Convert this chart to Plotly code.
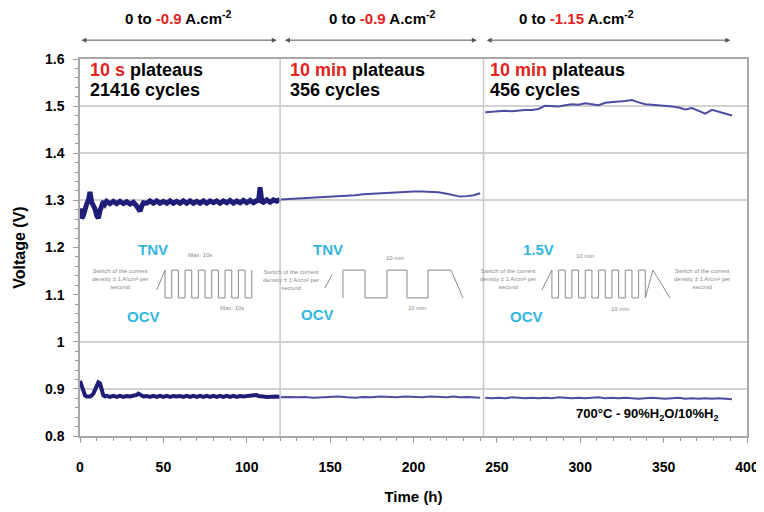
import plotly.graph_objects as go

# ---------------- data ----------------
t_s1 = [0,1,2,3,4,5,6,7,8,9,10,11,12,13,14,15,16,18,20,22,24,26,28,30,32,34,35,36,37,38,
        40,42,44,46,48,50,52,54,56,58,60,62,64,66,68,70,72,74,76,78,80,82,84,86,88,90,92,94,96,98,
        100,102,104,106,107,108,109,110,112,114,116,118,120]
v_up1 = [1.283,1.262,1.268,1.285,1.292,1.300,1.318,1.296,1.290,1.282,1.268,1.262,1.278,1.292,1.298,1.292,1.298,1.293,1.298,1.293,
         1.298,1.293,1.297,1.292,1.296,1.288,1.281,1.277,1.287,1.295,
         1.294,1.299,1.294,1.299,1.294,1.298,1.294,1.299,1.294,1.298,1.294,1.299,1.294,1.299,1.294,1.298,1.294,1.299,1.294,1.299,
         1.295,1.299,1.294,1.299,1.295,1.300,1.294,1.299,1.295,1.300,
         1.295,1.300,1.295,1.300,1.297,1.328,1.298,1.296,1.301,1.296,1.301,1.298,1.302]
v_lo1 = [0.917,0.905,0.893,0.886,0.884,0.883,0.884,0.886,0.890,0.898,0.907,0.914,0.912,0.896,0.886,0.884,0.885,0.883,0.885,0.883,
         0.885,0.883,0.885,0.884,0.885,0.887,0.890,0.889,0.886,0.884,
         0.885,0.883,0.885,0.883,0.885,0.883,0.885,0.883,0.885,0.884,0.885,0.883,0.885,0.883,0.885,0.883,0.885,0.883,0.885,0.883,
         0.885,0.883,0.885,0.883,0.885,0.883,0.885,0.883,0.885,0.884,
         0.885,0.886,0.888,0.887,0.885,0.884,0.883,0.884,0.883,0.884,0.883,0.884,0.883]

t_s2 = [120,125,130,135,140,145,150,155,160,165,170,175,180,185,190,195,200,205,210,215,220,224,228,232,236,240]
v_up2 = [1.302,1.303,1.304,1.304,1.305,1.306,1.307,1.308,1.310,1.311,1.313,1.314,1.316,1.317,1.318,1.319,1.319,1.319,1.318,1.317,
         1.314,1.311,1.308,1.309,1.311,1.315]
v_lo2 = [0.882,0.883,0.882,0.883,0.881,0.882,0.883,0.884,0.882,0.881,0.883,0.882,0.884,0.883,0.882,0.884,0.883,0.882,0.884,0.883,
         0.882,0.884,0.882,0.883,0.882,0.881]

t_s3 = [243,247,251,255,259,263,267,271,275,279,283,287,291,295,299,303,307,311,315,319,323,327,331,335,339,343,347,351,355,359,
        363,367,371,375,379,383,387,391]
v_up3 = [1.487,1.488,1.489,1.490,1.489,1.491,1.492,1.492,1.494,1.501,1.500,1.499,1.502,1.504,1.503,1.506,1.504,1.502,1.507,1.509,
         1.510,1.511,1.513,1.508,1.504,1.503,1.502,1.500,1.499,1.497,1.493,1.496,1.490,1.484,1.492,1.488,1.483,1.480]
v_lo3 = [0.881,0.880,0.881,0.880,0.882,0.881,0.880,0.881,0.880,0.881,0.880,0.882,0.881,0.880,0.881,0.880,0.881,0.882,0.880,0.881,
         0.880,0.881,0.880,0.879,0.880,0.881,0.880,0.879,0.880,0.881,0.879,0.880,0.879,0.880,0.879,0.880,0.879,0.878]

x_ticks = [0, 50, 100, 150, 200, 250, 300, 350, 400]
y_ticks = [0.8, 0.9, 1.0, 1.1, 1.2, 1.3, 1.4, 1.5, 1.6]
y_ticktext = ["0.8", "0.9", "1", "1.1", "1.2", "1.3", "1.4", "1.5", "1.6"]

phase_bounds = [120, 242]
phase_ranges = [(0, 118), (122, 238), (243, 390)]
phase_current = ["-0.9", "-0.9", "-1.15"]
phase_center = [59, 181, 298]
phase_plateau = ["10 s", "10 min", "10 min"]
phase_cycles = ["21416 cycles", "356 cycles", "456 cycles"]
phase_text_x = [4.5, 124.5, 244.5]

# schematic insets (time-like units in h, level in V on the main axes)
HI, LO = 1.152, 1.093
ins1_x = [46, 51, 51, 55, 55, 59, 59, 63, 63, 67, 67, 71, 71, 75, 75, 79, 79, 83, 83, 87, 87, 91, 91, 95, 95, 99, 99, 103, 103]
ins1_y = [1.110, HI, LO, LO, HI, HI, LO, LO, HI, HI, LO, LO, HI, HI, LO, LO, HI, HI, LO, LO, HI, HI, LO, LO, HI, HI, LO, LO, HI]
ins2_rx = [146.9, 151.1]
ins2_ry = [1.114, 1.142]
ins2_x = [157.7, 157.7, 170.9, 170.9, 184.1, 184.1, 196.1, 196.1, 208.7, 208.7, 220.7, 222.5, 229.7]
ins2_y = [LO, HI, HI, LO, LO, HI, HI, LO, LO, HI, HI, HI, LO]
ins3_x = [277, 283, 283, 287, 287, 291, 291, 295, 295, 299, 299, 303, 303, 307, 307, 311, 311, 315, 315, 319, 319, 323, 323, 327,
          327, 331, 331, 335, 335, 339, 339, 343.6, 353.8]
ins3_y = [1.110, HI, LO, LO, HI, HI, LO, LO, HI, HI, LO, LO, HI, HI, LO, LO, HI, HI, LO, LO, HI, HI, LO, LO,
          HI, HI, LO, LO, HI, HI, LO, HI, LO]
ins_upper_lbl = ["TNV", "TNV", "1.5V"]
ins_upper_pos = [(43.8, 1.195), (148.7, 1.195), (274.7, 1.195)]
ins_lower_pos = [(37.8, 1.053), (142.7, 1.057), (268.0, 1.053)]
ins_note_pos = [(24, 1.133), (126.5, 1.131), (256.7, 1.133), (373, 1.133)]
ins_tag = [("Max. 10s", 72, 1.184), ("Max. 10s", 91, 1.072), ("10 min", 189, 1.178), ("10 min", 202, 1.072),
           ("10 min", 303, 1.181), ("10 min", 324, 1.070)]

# ---------------- figure ----------------
FONT = "Liberation Sans, Arial, sans-serif"
DARK = "#1e1e78"
MID = "#4c4ca2"
RED = "#e3231c"
CYAN = "#33b5de"

fig = go.Figure()
fig.add_trace(go.Scatter(x=t_s1, y=v_up1, mode="lines", line=dict(color=DARK, width=5), hoverinfo="skip"))
fig.add_trace(go.Scatter(x=t_s1, y=v_lo1, mode="lines", line=dict(color=DARK, width=4), hoverinfo="skip"))
fig.add_trace(go.Scatter(x=t_s2, y=v_up2, mode="lines", line=dict(color=MID, width=2), hoverinfo="skip"))
fig.add_trace(go.Scatter(x=t_s2, y=v_lo2, mode="lines", line=dict(color=MID, width=2), hoverinfo="skip"))
fig.add_trace(go.Scatter(x=t_s3, y=v_up3, mode="lines", line=dict(color=MID, width=2), hoverinfo="skip"))
fig.add_trace(go.Scatter(x=t_s3, y=v_lo3, mode="lines", line=dict(color=MID, width=2), hoverinfo="skip"))

for xs, ys in [(ins1_x, ins1_y), (ins2_rx, ins2_ry), (ins2_x, ins2_y), (ins3_x, ins3_y)]:
    fig.add_trace(go.Scatter(x=xs, y=ys, mode="lines", line=dict(color="#8a8a8a", width=1), hoverinfo="skip"))

shapes = []
shapes.append(dict(type="rect", xref="x", yref="y", x0=0, x1=400, y0=1.03, y1=1.235, layer="between",
                   fillcolor="white", line=dict(width=0)))
for b in phase_bounds:
    shapes.append(dict(type="line", xref="x", yref="y", x0=b, x1=b, y0=0.8, y1=1.6, layer="above",
                       line=dict(color="#c8c8c8", width=1.5)))

annotations = []
for (a, b), cur, cx in zip(phase_ranges, phase_current, phase_center):
    annotations.append(dict(x=b, y=1.05, xref="x", yref="paper", ax=a, ay=0, axref="x", ayref="pixel",
                            showarrow=True, arrowhead=2, startarrowhead=2, arrowside="end+start",
                            arrowsize=1, arrowwidth=1, arrowcolor="#555555", text=""))
    annotations.append(dict(x=cx, y=1.111, xref="x", yref="paper", showarrow=False,
                            text=f"<b>0 to <span style='color:{RED}'>{cur}</span> A.cm<sup>-2</sup></b>",
                            font=dict(family=FONT, size=15, color="black"), xanchor="center", yanchor="middle"))
for px_, pl, cy in zip(phase_text_x, phase_plateau, phase_cycles):
    annotations.append(dict(x=px_, y=0.971, xref="x", yref="paper", showarrow=False, xanchor="left", yanchor="middle",
                            text=f"<b><span style='color:{RED}'>{pl}</span> plateaus</b>",
                            font=dict(family=FONT, size=18, color="black")))
    annotations.append(dict(x=px_, y=0.918, xref="x", yref="paper", showarrow=False, xanchor="left", yanchor="middle",
                            text=f"<b>{cy}</b>", font=dict(family=FONT, size=18, color="black")))
for lbl, (ux, uy), (lx, ly) in zip(ins_upper_lbl, ins_upper_pos, ins_lower_pos):
    annotations.append(dict(x=ux, y=uy, xref="x", yref="y", showarrow=False, text=f"<b>{lbl}</b>",
                            font=dict(family=FONT, size=15, color=CYAN)))
    annotations.append(dict(x=lx, y=ly, xref="x", yref="y", showarrow=False, text="<b>OCV</b>",
                            font=dict(family=FONT, size=15, color=CYAN)))
for nx, ny in ins_note_pos:
    annotations.append(dict(x=nx, y=ny, xref="x", yref="y", showarrow=False,
                            text="Switch of the current<br>density ± 1 A/cm² per<br>second",
                            font=dict(family=FONT, size=6, color="#8a8a8a")))
for txt, tx, ty in ins_tag:
    annotations.append(dict(x=tx, y=ty, xref="x", yref="y", showarrow=False, text=txt,
                            font=dict(family=FONT, size=6, color="#8a8a8a")))
annotations.append(dict(x=340.6, y=0.845, xref="x", yref="y", showarrow=False,
                        text="<b>700°C - 90%H<sub>2</sub>O/10%H<sub>2</sub></b>",
                        font=dict(family=FONT, size=13, color="black")))

# page body has an 8px margin: figure drawn at (8,8) in the 764x512 window
fig.update_layout(
    width=756, height=504,
    margin=dict(l=72, r=17, t=51, b=76),
    paper_bgcolor="white", plot_bgcolor="white",
    showlegend=False,
    font=dict(family=FONT, size=14, color="black"),
    shapes=shapes, annotations=annotations,
)
fig.update_xaxes(range=[0, 400], tickvals=x_ticks, ticktext=[f"<b>{t}</b>" for t in x_ticks],
                 showgrid=False, zeroline=False, automargin=False,
                 showline=True, linecolor="#a8a8a8", linewidth=1.5, mirror=True,
                 ticks="outside", ticklen=5, tickcolor="#9a9a9a", ticklabelstandoff=12,
                 minor=dict(dtick=10, ticks="outside", ticklen=3, tickcolor="#9a9a9a"),
                 tickfont=dict(family=FONT, size=14, color="black"),
                 title=dict(text="<b>Time (h)</b>", font=dict(family=FONT, size=15), standoff=18))
fig.update_yaxes(range=[0.8, 1.6], tickvals=y_ticks, ticktext=[f"<b>{t}</b>" for t in y_ticktext],
                 showgrid=True, gridcolor="#d2d2d2", gridwidth=1.5, zeroline=False, automargin=False,
                 showline=True, linecolor="#a8a8a8", linewidth=1.5, mirror=True,
                 ticks="outside", ticklen=5, tickcolor="#9a9a9a", ticklabelstandoff=6,
                 minor=dict(dtick=0.02, ticks="outside", ticklen=3, tickcolor="#9a9a9a", showgrid=False),
                 tickfont=dict(family=FONT, size=14, color="black"),
                 title=dict(text="<b>Voltage (V)</b>", font=dict(family=FONT, size=16), standoff=15))

fig.write_html("out.html")
